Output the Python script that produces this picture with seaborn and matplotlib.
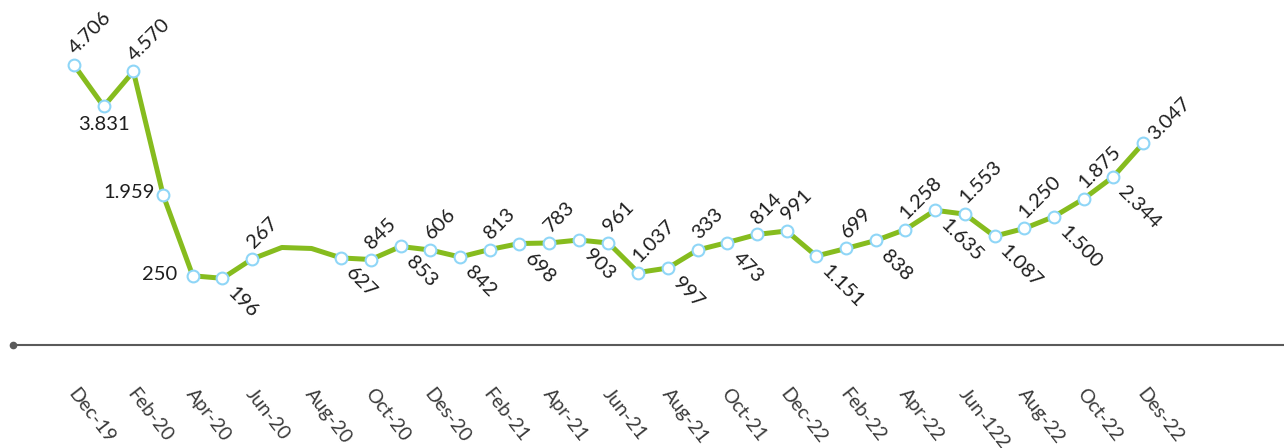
import matplotlib
matplotlib.use("Agg")
import matplotlib.pyplot as plt
import matplotlib.transforms as mtransforms
import seaborn as sns
import pandas as pd
import numpy as np

# ---- data ----
months = ["Dec-19","Jan-20","Feb-20","Mar-20","Apr-20","May-20","Jun-20","Jul-20","Aug-20",
          "Sep-20","Oct-20","Nov-20","Dec-20","Jan-21","Feb-21","Mar-21","Apr-21","May-21",
          "Jun-21","Jul-21","Aug-21","Sep-21","Oct-21","Nov-21","Dec-21","Jan-22","Feb-22",
          "Mar-22","Apr-22","May-22","Jun-22","Jul-22","Aug-22","Sep-22","Oct-22","Nov-22","Dec-22"]
values = [4706, 3831, 4570, 1959, 250, 196, 605, 848, 827,
          627, 594, 869, 795, 647, 805, 932, 943, 1006,
          943, 319, 414, 795, 953, 1123, 1197, 668, 827,
          996, 1228, 1635, 1553, 1087, 1250, 1500, 1875, 2344, 3047]
point_labels = ["4.706","3.831","4.570","1.959","250","196","267","","",
                "627","845","853","606","842","813","698","783","903",
                "961","1.037","997","333","473","814","991","1.151","699",
                "838","1.258","1.635","1.553","1.087","1.250","1.500","1.875","2.344","3.047"]
label_pos = ["up","below","up","left","leftfar","down","up","none","none",
             "down","up","down","up","down","up","down","up","down",
             "up","up","down","up","down","up","up","down","up",
             "down","up","down","up","down","up","down","up","down","upright"]
tick_labels = ["Dec-19","Feb-20","Apr-20","Jun-20","Aug-20","Oct-20","Des-20","Feb-21",
               "Apr-21","Jun-21","Aug-21","Oct-21","Dec-22","Feb-22","Apr-22","Jun-122",
               "Aug-22","Oct-22","Des-22"]

df = pd.DataFrame({"idx": np.arange(len(values)), "value": values,
                   "label": point_labels, "pos": label_pos})

sns.set_theme(style="white")
plt.rcParams["font.family"] = ["Lato", "DejaVu Sans"]

W, H = 1284, 448
fig = plt.figure(figsize=(W / 100, H / 100), dpi=100)
ax = fig.add_axes([13 / W, (H - 345) / H, 1 - 13 / W, 345 / H])

line_color = "#86bc1e"
sns.lineplot(data=df, x="idx", y="value", ax=ax, color=line_color, lw=3.6,
             solid_joinstyle="round", solid_capstyle="round", zorder=2)
mk = df[df["pos"] != "none"]
sns.scatterplot(data=mk, x="idx", y="value", ax=ax, s=72, color="white",
                edgecolor="#8fd6f7", linewidth=1.5, zorder=3, clip_on=False)

# scales: index 0 at px 74, 36 at px 1143; value 0 at px 287.6, 0.0473 px/unit
dx = (1143 - 74) / 36
ax.set_xlim((13 - 74) / dx, (1284 - 74) / dx)
ax.set_ylim((287.6 - 345) / 0.0473, 287.6 / 0.0473)

for sp in ["top", "right", "left"]:
    ax.spines[sp].set_visible(False)
ax.spines["bottom"].set_color("#5a5a5a")
ax.spines["bottom"].set_linewidth(1.5)
ax.plot([0], [0], "o", color="#5a5a5a", ms=4.5, transform=ax.transAxes, clip_on=False)

ax.set_yticks([])
ax.set_xlabel("")
ax.set_ylabel("")
ax.set_xticks(np.arange(0, len(values), 2))
ax.set_xticklabels(tick_labels)
ax.tick_params(axis="x", length=0, pad=29, labelsize=14, labelcolor="#3a3a3a")
shift = mtransforms.ScaledTranslation(4 / 100, 0, fig.dpi_scale_trans)
for t in ax.get_xticklabels():
    t.set_rotation(-52)
    t.set_ha("left")
    t.set_va("top")
    t.set_rotation_mode("anchor")
    t.set_transform(t.get_transform() + shift)

fs = 14.5
tc = "#1e1e1e"
for _, r in df.iterrows():
    p = r["pos"]
    if p == "none":
        continue
    xy = (r["idx"], r["value"])
    kw = dict(textcoords="offset points", fontsize=fs, color=tc)
    if p == "up":
        ax.annotate(r["label"], xy, xytext=(2.5, 5.5), rotation=45, ha="left",
                    va="bottom", rotation_mode="anchor", **kw)
    elif p == "upright":
        ax.annotate(r["label"], xy, xytext=(10, 0.5), rotation=45, ha="left",
                    va="bottom", rotation_mode="anchor", **kw)
    elif p == "down":
        ax.annotate(r["label"], xy, xytext=(10, -4.5), rotation=-45, ha="left",
                    va="top", rotation_mode="anchor", **kw)
    elif p == "below":
        ax.annotate(r["label"], xy, xytext=(0, -7), ha="center", va="top", **kw)
    elif p == "left":
        ax.annotate(r["label"], xy, xytext=(-6, 1.5), ha="right", va="center", **kw)
    elif p == "leftfar":
        ax.annotate(r["label"], xy, xytext=(-11, 1), ha="right", va="center", **kw)

fig.savefig("out.png", dpi=100)
